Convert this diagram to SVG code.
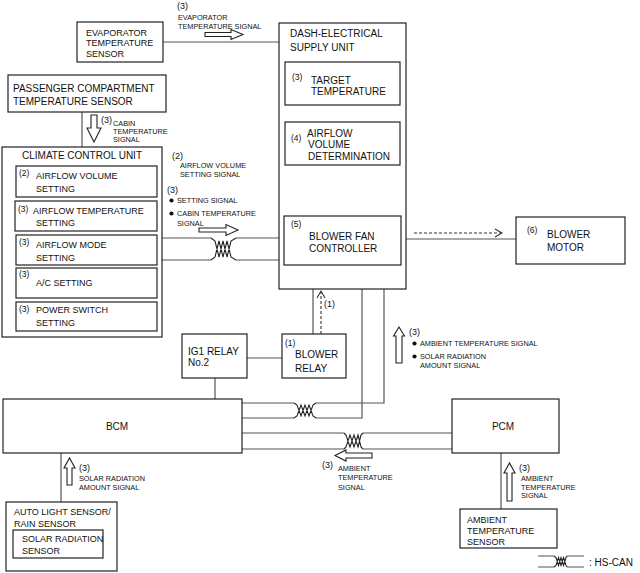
<svg xmlns="http://www.w3.org/2000/svg" width="640" height="573" viewBox="0 0 640 573">
<defs>
<style>
.box{fill:#fff;stroke:#222;stroke-width:1.2}
.ln{fill:none;stroke:#555;stroke-width:1.2}
.tw{fill:none;stroke:#222;stroke-width:1.1}
.dash{fill:none;stroke:#333;stroke-width:1.1;stroke-dasharray:3,2}
.arr{fill:#fff;stroke:#222;stroke-width:1.1}
text{font-family:"Liberation Sans",Arial,sans-serif;fill:#111}
.t{font-size:9px}
.m{font-size:10px}
.s{font-size:7.3px}
.n{font-size:8.5px}
</style>
</defs>
<rect width="640" height="573" fill="#fff"/>

<g id="connectors">
  <path class="ln" d="M163,42 H279"/>
  <path class="ln" d="M82,112 V147"/>
  <path class="ln" d="M162,238 H211 M236,238 H279 M162,260 H211 M236,260 H279"/>
  <path class="tw" d="M211,238 L215,241 L219,257 L223,241 L227,257 L231,241 L236,238 M211,260 L215,257 L219,241 L223,257 L227,241 L231,257 L236,260"/>
  <path class="ln" d="M401,239 H516"/>
  <path class="ln" d="M313,265 V334"/>
  <path class="ln" d="M247,358 H282"/>
  <path class="ln" d="M215,378 V399"/>
  <path class="ln" d="M384,289 V403 H316 M294,403 H242 M362,289 V418 H316 M294,418 H242"/>
  <path class="tw" d="M294,403 L297,405 L301,416 L305,405 L309,416 L313,405 L316,403 M294,418 L297,416 L301,405 L305,416 L309,405 L313,416 L316,418"/>
  <path class="ln" d="M242,433 H344 M363,433 H452 M242,449 H344 M363,449 H452"/>
  <path class="tw" d="M344,433 L346,435 L350,447 L354,435 L358,447 L361,435 L363,433 M344,449 L346,447 L350,435 L354,447 L358,435 L361,447 L363,449"/>
  <path class="ln" d="M61,453 V502"/>
  <path class="ln" d="M501,453 V509"/>
  <path class="dash" d="M414,233 H501"/>
  <path fill="none" stroke="#333" stroke-width="1.1" d="M495,229 L502,233 L495,237"/>
  <path class="dash" d="M321,334 V292"/>
  <path fill="none" stroke="#333" stroke-width="1.1" d="M317,298 L321,291 L325,298"/>
  <polygon class="arr" points="205,32.5 231,32.5 231,29.5 243,34.5 231,39.5 231,36.5 205,36.5"/>
  <polygon class="arr" points="91,115 97,115 97,128 101,128 94,142 87,128 91,128"/>
  <polygon class="arr" points="199,228 226,228 226,224.5 238,230 226,235.5 226,232 199,232"/>
  <polygon class="arr" points="335,173 343,173 343,198 347,198 339,210 331,198 335,198"/>
  <polygon class="arr" points="396,363 402,363 402,336 404.5,336 399,327 393.5,336 396,336"/>
  <polygon class="arr" points="372,453 346,453 346,450 335,455.5 346,461 346,458 372,458"/>
  <polygon class="arr" points="67,485 72,485 72,468 75,468 69.5,458 64,468 67,468"/>
  <polygon class="arr" points="507,501 512,501 512,473 515,473 509.5,463 504,473 507,473"/>
</g>

<g id="labels">
  <text class="t" x="177" y="9">(3)</text>
  <text class="s" x="178" y="20">EVAPORATOR</text>
  <text class="s" x="178" y="29">TEMPERATURE SIGNAL</text>
  <text class="t" x="101" y="123">(3)</text>
  <text class="s" x="113" y="126">CABIN</text>
  <text class="s" x="113" y="134">TEMPERATURE</text>
  <text class="s" x="113" y="142">SIGNAL</text>
  <text class="t" x="172" y="159">(2)</text>
  <text class="s" x="180" y="168">AIRFLOW VOLUME</text>
  <text class="s" x="180" y="177">SETTING SIGNAL</text>
  <text class="t" x="167" y="193">(3)</text>
  <circle cx="171.5" cy="200.5" r="2.1" fill="#111"/>
  <text class="s" x="177" y="203">SETTING SIGNAL</text>
  <circle cx="171.5" cy="213.5" r="2.1" fill="#111"/>
  <text class="s" x="177" y="216">CABIN TEMPERATURE</text>
  <text class="s" x="177" y="226">SIGNAL</text>
  <text class="t" x="324" y="307">(1)</text>
  <text class="t" x="409" y="335">(3)</text>
  <circle cx="414.5" cy="343.5" r="2.1" fill="#111"/>
  <text class="s" x="420" y="346">AMBIENT TEMPERATURE SIGNAL</text>
  <circle cx="414.5" cy="356.5" r="2.1" fill="#111"/>
  <text class="s" x="420" y="359">SOLAR RADIATION</text>
  <text class="s" x="420" y="368">AMOUNT SIGNAL</text>
  <text class="t" x="322" y="468">(3)</text>
  <text class="s" x="338" y="471">AMBIENT</text>
  <text class="s" x="338" y="480">TEMPERATURE</text>
  <text class="s" x="338" y="490">SIGNAL</text>
  <text class="t" x="79" y="471">(3)</text>
  <text class="s" x="79" y="481">SOLAR RADIATION</text>
  <text class="s" x="79" y="490">AMOUNT SIGNAL</text>
  <text class="t" x="519" y="471">(3)</text>
  <text class="s" x="521" y="481">AMBIENT</text>
  <text class="s" x="521" y="490">TEMPERATURE</text>
  <text class="s" x="521" y="498">SIGNAL</text>
</g>

<g id="evaporator-sensor">
  <rect class="box" x="77" y="22" width="86" height="40"/>
  <text class="t" x="86" y="35.5">EVAPORATOR</text>
  <text class="t" x="86" y="46">TEMPERATURE</text>
  <text class="t" x="86" y="57">SENSOR</text>
</g>

<g id="passenger-sensor">
  <rect class="box" x="8" y="75" width="158" height="37"/>
  <text class="m" x="13" y="92" font-size="10.4">PASSENGER COMPARTMENT</text>
  <text class="m" x="13" y="105" font-size="10.4">TEMPERATURE SENSOR</text>
</g>

<g id="climate-control-unit">
  <rect class="box" x="2" y="147" width="160" height="190"/>
  <text class="m" x="82" y="159" text-anchor="middle">CLIMATE CONTROL UNIT</text>
  <rect class="box" x="16" y="166" width="141" height="31"/>
  <text class="n" x="19" y="176">(2)</text>
  <text class="t" x="36" y="179">AIRFLOW VOLUME</text>
  <text class="t" x="36" y="192">SETTING</text>
  <rect class="box" x="15" y="201" width="142" height="30"/>
  <text class="n" x="18" y="212">(3)</text>
  <text class="t" x="33" y="214">AIRFLOW TEMPERATURE</text>
  <text class="t" x="36" y="226">SETTING</text>
  <rect class="box" x="16" y="235" width="141" height="30"/>
  <text class="n" x="19" y="245">(3)</text>
  <text class="t" x="36" y="248">AIRFLOW MODE</text>
  <text class="t" x="36" y="261">SETTING</text>
  <rect class="box" x="16" y="268" width="141" height="30"/>
  <text class="n" x="19" y="277">(3)</text>
  <text class="t" x="36" y="286">A/C SETTING</text>
  <rect class="box" x="16" y="302" width="141" height="29"/>
  <text class="n" x="19" y="312">(3)</text>
  <text class="t" x="36" y="313">POWER SWITCH</text>
  <text class="t" x="36" y="326">SETTING</text>
</g>

<g id="dash-electrical-supply-unit">
  <rect class="box" x="279" y="23" width="127" height="266"/>
  <text class="m" x="290" y="37">DASH-ELECTRICAL</text>
  <text class="m" x="290" y="51">SUPPLY UNIT</text>
</g>

<g id="target-temperature">
  <rect class="box" x="285" y="62" width="115" height="43"/>
  <text class="n" x="292" y="80">(3)</text>
  <text class="m" x="311" y="83.5">TARGET</text>
  <text class="m" x="311" y="95">TEMPERATURE</text>
</g>

<g id="airflow-volume-determination">
  <rect class="box" x="285" y="122" width="115" height="43"/>
  <text class="n" x="291" y="141">(4)</text>
  <text class="m" x="307" y="137">AIRFLOW</text>
  <text class="m" x="308" y="148">VOLUME</text>
  <text class="m" x="308" y="159.5">DETERMINATION</text>
</g>

<g id="blower-fan-controller">
  <rect class="box" x="284" y="216" width="117" height="49"/>
  <text class="n" x="291" y="227">(5)</text>
  <text class="m" x="309" y="240">BLOWER FAN</text>
  <text class="m" x="309" y="251.5">CONTROLLER</text>
</g>

<g id="blower-motor">
  <rect class="box" x="516" y="217" width="109" height="47"/>
  <text class="n" x="527" y="233">(6)</text>
  <text class="m" x="547" y="238">BLOWER</text>
  <text class="m" x="547" y="251">MOTOR</text>
</g>

<g id="ig1-relay">
  <rect class="box" x="182" y="334" width="65" height="44"/>
  <text class="m" x="188" y="355">IG1 RELAY</text>
  <text class="m" x="188" y="366">No.2</text>
</g>

<g id="blower-relay">
  <rect class="box" x="282" y="334" width="64" height="44"/>
  <text class="n" x="285" y="346">(1)</text>
  <text class="m" x="295" y="358">BLOWER</text>
  <text class="m" x="295" y="372">RELAY</text>
</g>

<g id="bcm">
  <rect class="box" x="3" y="399" width="239" height="54"/>
  <text class="m" x="117" y="430" text-anchor="middle">BCM</text>
</g>

<g id="pcm">
  <rect class="box" x="452" y="399" width="107" height="54"/>
  <text class="m" x="503" y="430" text-anchor="middle">PCM</text>
</g>

<g id="auto-light-sensor">
  <rect class="box" x="6" y="502" width="111" height="69"/>
  <text class="t" x="14" y="515">AUTO LIGHT SENSOR/</text>
  <text class="t" x="14" y="527">RAIN SENSOR</text>
  <rect class="box" x="13" y="530" width="90" height="28"/>
  <text class="t" x="22" y="542">SOLAR RADIATION</text>
  <text class="t" x="22" y="554">SENSOR</text>
</g>

<g id="ambient-temperature-sensor">
  <rect class="box" x="460" y="509" width="97" height="39"/>
  <text class="t" x="467" y="523">AMBIENT</text>
  <text class="t" x="467" y="534">TEMPERATURE</text>
  <text class="t" x="467" y="545">SENSOR</text>
</g>

<g id="legend">
  <path class="ln" d="M538,556 H554 M567,556 H584 M538,567 H554 M567,567 H584"/>
  <path class="tw" d="M554,556 L556,557.5 L558.5,565.5 L561,557.5 L563.5,565.5 L566,557.5 L567,556 M554,567 L556,565.5 L558.5,557.5 L561,565.5 L563.5,557.5 L566,565.5 L567,567"/>
  <text class="m" x="589" y="566">: HS-CAN</text>
</g>
</svg>
